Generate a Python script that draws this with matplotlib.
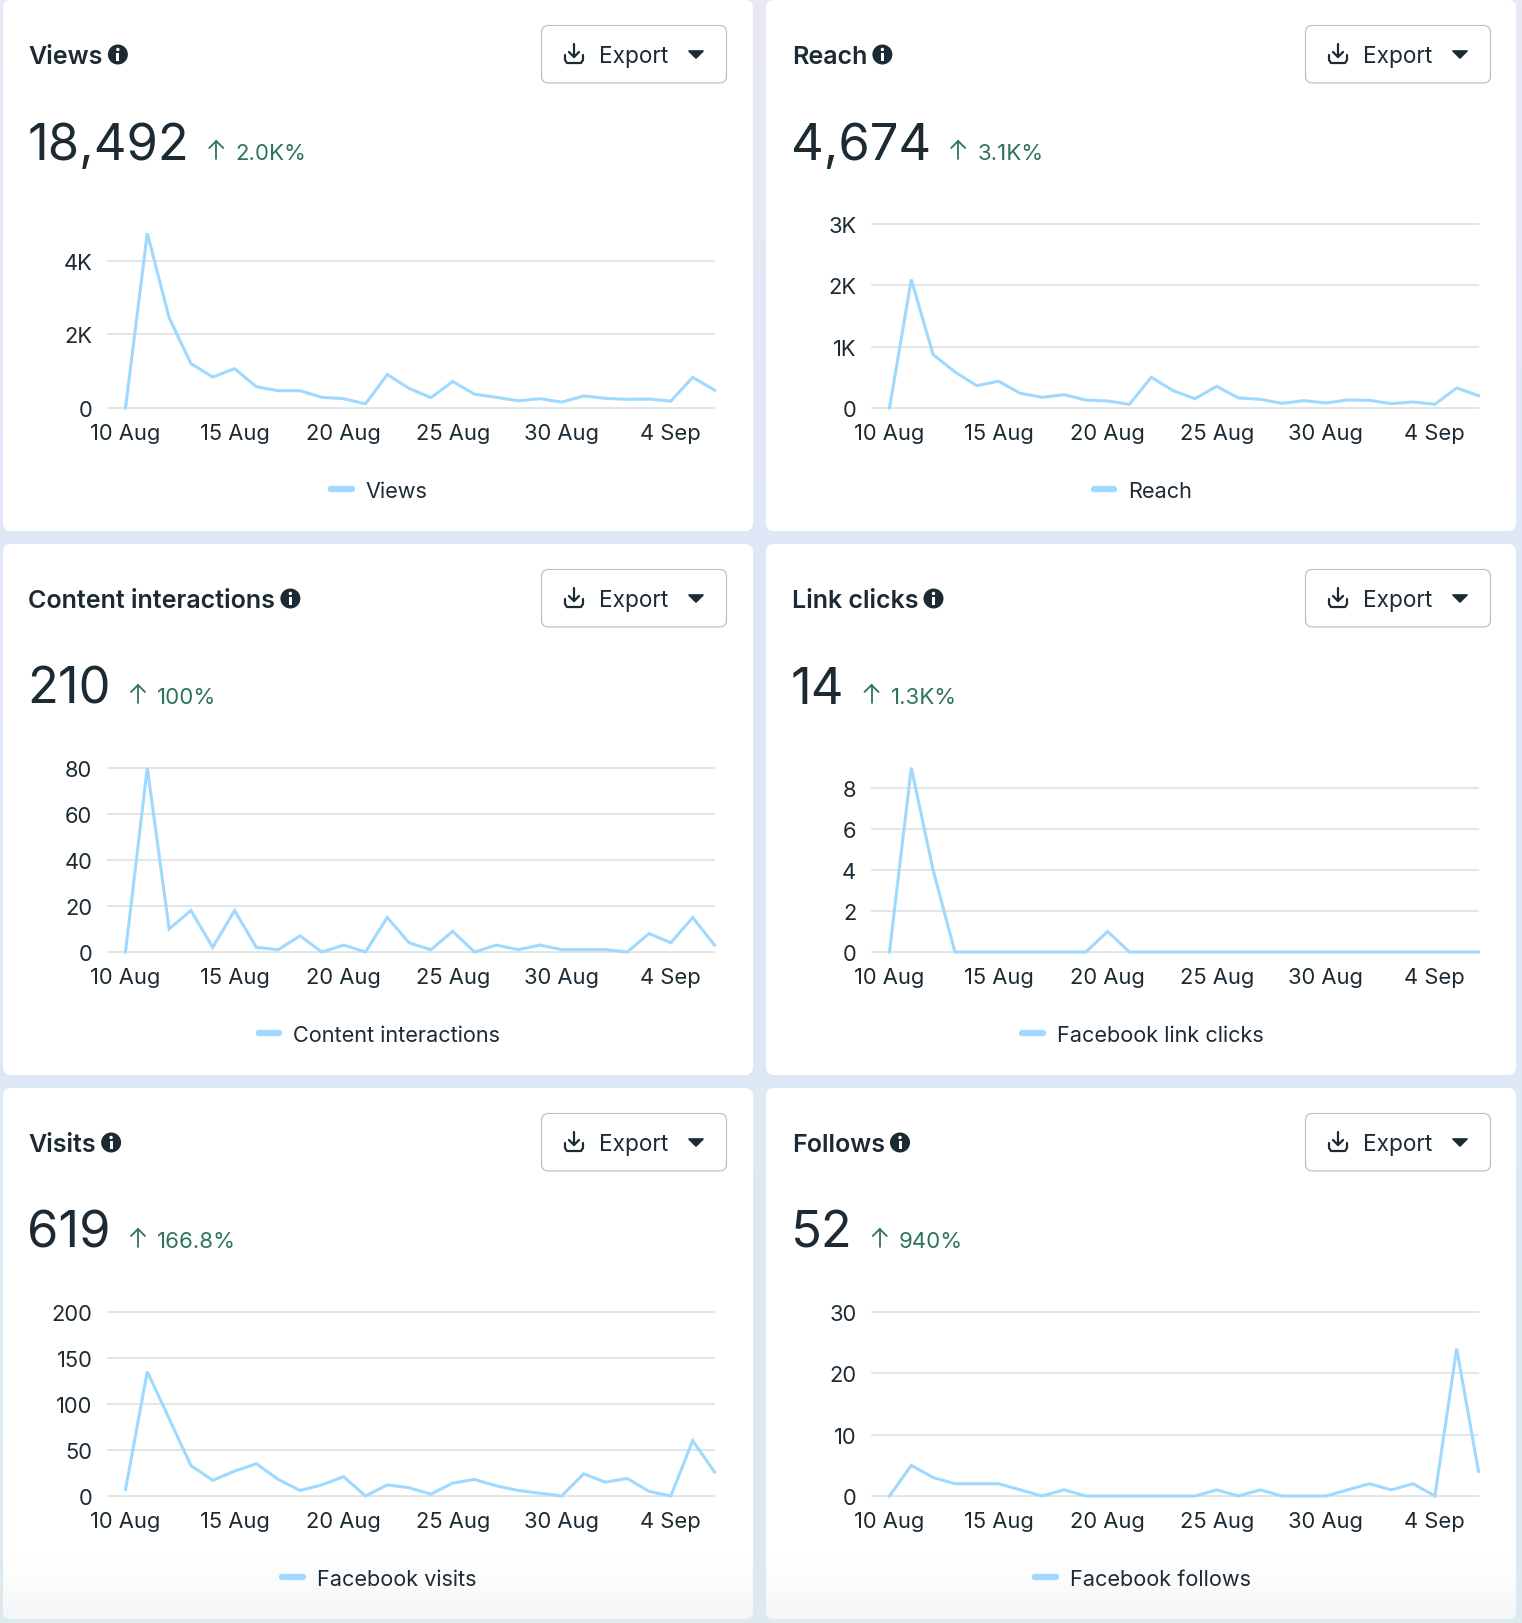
"""Six page-insight cards, 10 Aug to 6 Sep, laid out like the dashboard screenshot."""
import numpy as np
import matplotlib

matplotlib.use("Agg")  # headless
import matplotlib.pyplot as plt
from matplotlib.colors import LinearSegmentedColormap
from matplotlib.lines import Line2D
from matplotlib.patches import Circle, FancyBboxPatch, Polygon, Rectangle

plt.rcParams["font.family"] = ["Inter", "Roboto", "DejaVu Sans"]

# --- data ---------------------------------------------------------------------
x_ticks = [0, 5, 10, 15, 20, 25]
x_labels = ["10 Aug", "15 Aug", "20 Aug", "25 Aug", "30 Aug", "4 Sep"]

views = [0, 4740, 2450, 1206, 840, 1066, 580, 468, 468, 290, 252, 112, 907, 533,
         280, 720, 374, 290, 196, 252, 159, 327, 262, 234, 243, 187, 832, 486]
reach = [0, 2092, 870, 587, 364, 435, 239, 174, 217, 130, 114, 60, 500, 283,
         152, 353, 163, 141, 76, 120, 82, 130, 125, 71, 98, 60, 326, 201]
interactions = [0, 80, 10, 18, 2, 18, 2, 1, 7, 0, 3, 0, 15, 4,
                1, 9, 0, 3, 1, 3, 1, 1, 1, 0, 8, 4, 15, 3]
link_clicks = [0, 9, 4, 0, 0, 0, 0, 0, 0, 0, 1, 0, 0, 0,
               0, 0, 0, 0, 0, 0, 0, 0, 0, 0, 0, 0, 0, 0]
visits = [7, 135, 84, 33, 17, 27, 35, 18, 6, 12, 21, 0, 12, 9,
          2, 14, 18, 11, 6, 3, 0, 24, 15, 19, 5, 0, 60, 26]
follows = [0, 5, 3, 2, 2, 2, 1, 0, 1, 0, 0, 0, 0, 0,
           0, 1, 0, 1, 0, 0, 0, 1, 2, 1, 2, 0, 24, 4]

titles = ["Views", "Reach", "Content interactions", "Link clicks", "Visits", "Follows"]
totals = ["18,492", "4,674", "210", "14", "619", "52"]
changes = ["2.0K%", "3.1K%", "100%", "1.3K%", "166.8%", "940%"]
legends = ["Views", "Reach", "Content interactions", "Facebook link clicks",
           "Facebook visits", "Facebook follows"]
series = [views, reach, interactions, link_clicks, visits, follows]
y_tops = [5000, 3000, 80, 9, 200, 30]
y_ticks = [[0, 2000, 4000], [0, 1000, 2000, 3000], [0, 20, 40, 60, 80],
           [0, 2, 4, 6, 8], [0, 50, 100, 150, 200], [0, 10, 20, 30]]
y_labels = [["0", "2K", "4K"], ["0", "1K", "2K", "3K"], ["0", "20", "40", "60", "80"],
            ["0", "2", "4", "6", "8"], ["0", "50", "100", "150", "200"], ["0", "10", "20", "30"]]

# --- style --------------------------------------------------------------------
W, H = 1522, 1624
DARK = "#1C2B33"
GREEN = "#2E7457"
LINE = "#A0D9FF"
GRID = "#E2E3E4"
BORDER = "#B4BCC4"
COL_STEP, ROW_STEP = 764, 544


def add_background(bg):
    cmap = LinearSegmentedColormap.from_list("bg", ["#E9E9F5", "#E0E7F7", "#DDE9F4", "#DDEAEE"])
    grad = np.linspace(0, 1, 256).reshape(-1, 1)
    bg.imshow(grad, extent=(0, W, H, 0), cmap=cmap, aspect="auto", zorder=0)


def add_card(bg, col, row):
    x0 = 3 + col * 763
    y0 = 1 + row * ROW_STEP
    card = FancyBboxPatch((x0 + 8, y0 + 8), 750 - 16, 531 - 16, boxstyle="round,pad=8",
                          fc="white", ec="none", zorder=1)
    bg.add_patch(card)
    if row == 2:
        # the bottom cards fade to grey at the lower edge
        cmap = LinearSegmentedColormap.from_list("fade", ["#FFFFFF", "#F5F6F7"])
        fade = bg.imshow(np.linspace(0, 1, 64).reshape(-1, 1), cmap=cmap, aspect="auto",
                         extent=(x0, x0 + 750, y0 + 531, y0 + 470), zorder=1.5)
        fade.set_clip_path(card)


def add_button(bg, col, row):
    dx, dy = col * COL_STEP, row * ROW_STEP
    bg.add_patch(FancyBboxPatch((541.5 + dx + 7, 26.5 + dy + 7), 185 - 14, 57.5 - 14,
                                boxstyle="round,pad=7", fc="white", ec=BORDER, lw=0.8, zorder=2))
    # download glyph
    kw = dict(color=DARK, lw=1.6, solid_capstyle="round", solid_joinstyle="round", zorder=3)
    bg.plot(np.array([574, 574]) + dx, np.array([45, 58]) + dy, **kw)
    bg.plot(np.array([569, 574, 579]) + dx, np.array([53, 58, 53]) + dy, **kw)
    bg.plot(np.array([565, 565, 567, 581, 583, 583]) + dx,
            np.array([56, 61, 64, 64, 61, 56]) + dy, **kw)
    bg.text(599 + dx, 63.5 + dy, "Export", fontsize=16.3, color=DARK, va="baseline", zorder=3)
    # caret
    bg.add_patch(Polygon(np.array([[689, 52], [703, 52], [696, 59]]) + [dx, dy], closed=True,
                         fc=DARK, ec=DARK, lw=1.2, joinstyle="round", zorder=3))


def add_header(fig, bg, idx, col, row):
    dx, dy = col * 763.5, row * ROW_STEP
    renderer = fig.canvas.get_renderer()
    title = bg.text(28.5 + dx, 64 + dy, titles[idx], fontsize=18, fontweight="semibold",
                    color=DARK, va="baseline", zorder=3)
    inv = bg.transData.inverted()
    right = inv.transform(title.get_window_extent(renderer).corners()[-1])[0]
    cx, cy = right + 15, 55.5 + dy
    bg.add_patch(Circle((cx, cy), 10, fc=DARK, ec="none", zorder=3))
    bg.add_patch(Circle((cx, cy - 5), 1.7, fc="white", ec="none", zorder=4))
    bg.add_patch(Rectangle((cx - 1.5, cy - 2), 3, 8.5, fc="white", ec="none", zorder=4))

    total = bg.text(27.5 + dx, 160 + dy, totals[idx], fontsize=36.5, fontweight="normal",
                    color=DARK, va="baseline", zorder=3)
    right = inv.transform(total.get_window_extent(renderer).corners()[-1])[0]
    ax_ = right + 27
    kw = dict(color=GREEN, lw=1.3, solid_capstyle="round", solid_joinstyle="miter", zorder=3)
    bg.plot([ax_, ax_], [142 + dy, 160 + dy], **kw)
    bg.plot([ax_ - 7, ax_, ax_ + 7], [149 + dy, 142 + dy, 149 + dy], **kw)
    bg.text(ax_ + 19, 160 + dy, changes[idx], fontsize=16, color=GREEN, va="baseline", zorder=3)


def add_chart(fig, idx, col, row):
    dx, dy = col * COL_STEP, row * ROW_STEP
    left, right, top, bottom = 106.5 + dx, 714.5 + dx, 224.7 + dy, 409 + dy
    ax = fig.add_axes([left / W, 1 - bottom / H, (right - left) / W, (bottom - top) / H], zorder=5)
    ax.patch.set_visible(False)
    ax.plot(range(len(series[idx])), series[idx], color=LINE, lw=2.2, clip_on=False,
            solid_joinstyle="miter", zorder=3)
    ax.set_xlim(-0.87, 27)
    ax.set_ylim(0, y_tops[idx])
    ax.set_xticks(x_ticks, x_labels)
    ax.set_yticks(y_ticks[idx], y_labels[idx])
    ax.grid(axis="y", color=GRID, lw=1.3, clip_on=False, solid_capstyle="butt")
    ax.set_axisbelow(True)
    ax.tick_params(length=0, labelsize=15.8, labelcolor=DARK)
    ax.tick_params(axis="x", pad=11)
    ax.tick_params(axis="y", pad=10.2)
    for spine in ax.spines.values():
        spine.set_visible(False)

    handle = Line2D([], [], color=LINE, lw=4.6, solid_capstyle="round")
    center_x = (379.5 + col * 763.5) / W
    center_y = 1 - (492 + dy) / H
    ax.legend([handle], [legends[idx]], loc="center", bbox_to_anchor=(center_x, center_y),
              bbox_transform=fig.transFigure, frameon=False, fontsize=15.6, labelcolor=DARK,
              handlelength=0.95, handletextpad=0.65, borderpad=0, borderaxespad=0)


def main():
    fig = plt.figure(figsize=(W / 100, H / 100), dpi=100)
    bg = fig.add_axes([0, 0, 1, 1], zorder=0)
    add_background(bg)
    bg.set_xlim(0, W)
    bg.set_ylim(H, 0)
    bg.axis("off")

    for idx in range(6):
        row, col = divmod(idx, 2)
        add_card(bg, col, row)
        add_button(bg, col, row)
        add_header(fig, bg, idx, col, row)
        add_chart(fig, idx, col, row)

    bg.set_xlim(0, W)
    bg.set_ylim(H, 0)
    fig.savefig("out.png", dpi=100)


if __name__ == "__main__":
    main()
